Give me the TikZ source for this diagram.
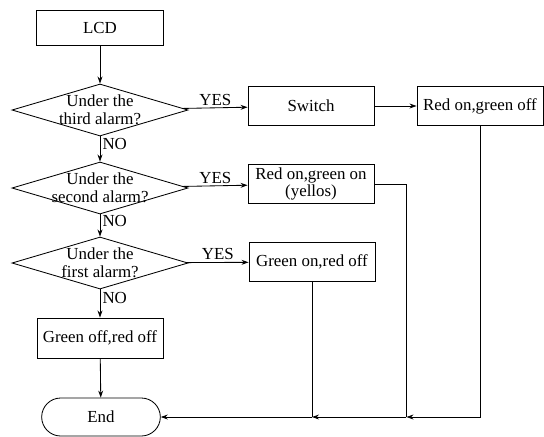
\documentclass[tikz,border=0pt]{standalone}
\usepackage{fontspec}
\setmainfont{Liberation Serif}
\usetikzlibrary{shapes.geometric,shapes.misc,arrows.meta}

\tikzset{
  box/.style={draw, minimum width=3.15cm, minimum height=0.975cm, inner sep=1pt, align=center},
  decision/.style={draw, diamond, aspect=3.45, minimum width=4.4cm, minimum height=1.3cm, inner sep=-4pt, align=center},
  terminal/.style={draw, rounded rectangle, minimum width=3.2cm, minimum height=0.95cm},
  arr/.style={-{Stealth[length=5pt,width=3.5pt]}},
  lbl/.style={inner sep=1.5pt},
}

\begin{document}
\begin{tikzpicture}[x=0.025cm, y=-0.025cm, line width=0.6pt, font=\fontsize{12}{12.5}\selectfont]
\useasboundingbox (0,0) rectangle (544,436);

% main column
\node[box, minimum width=3.175cm, minimum height=0.875cm] (lcd) at (100,28) {LCD};
\node[decision] (third)  at (100,110) {Under the\\third alarm?};
\node[decision] (second) at (100,188) {Under the\\second alarm?};
\node[decision] (first)  at (100,263) {Under the\\first alarm?};
\node[box, minimum height=1cm] (alloff) at (100,338) {Green off,red off};
\node[terminal] (stop) at (101,417) {End};

% right side
\node[box] (switch)  at (311,106) {Switch};
\node[box] (redon)   at (480,106) {Red on,green off};
\node[box] (yellow)  at (311,184) {Red on,green on\\(yellos)};
\node[box] (greenon) at (312,262) {Green on,red off};

%%%%%%%%%%%%%%%%%%%%%%%%%%%%%%%%%%%%%%%%

\draw[arr] (lcd) -- (third);
\draw[arr] (third) -- (second) node[pos=0.3, right, lbl]{NO};
\draw[arr] (second) -- (first) node[pos=0.3, right, lbl]{NO};
\draw[arr] (first) -- (alloff) node[pos=0.3, right, lbl]{NO};
\draw[arr] (alloff) -- (stop);

\draw[arr] (third) -- (switch) node[midway, above, lbl]{YES};
\draw[arr] (switch) -- (redon);
\draw[arr] (second) -- (yellow) node[midway, above, lbl]{YES};
\draw[arr] (first) -- (greenon) node[midway, above, lbl]{YES};

% return lines to End
\draw (yellow.east) -- ++(32,0) coordinate (yr) -- (yr |- stop.east) coordinate (j1);
\draw[arr] (redon.south) |- (j1);
\draw[arr] (j1) -- (greenon.south |- stop.east) coordinate (j2);
\draw (greenon.south) -- (j2);
\draw[arr] (j2) -- (stop.east);
\end{tikzpicture}
\end{document}
